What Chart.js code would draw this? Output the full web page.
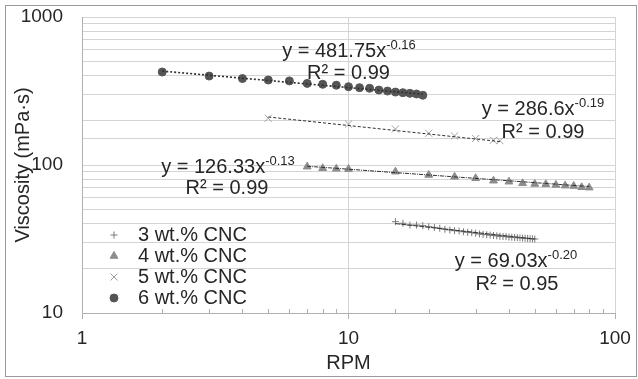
<!DOCTYPE html>
<html>
<head>
<meta charset="utf-8">
<script src="https://cdn.jsdelivr.net/npm/chart.js@4/dist/chart.umd.min.js"></script>
<style>
  html, body { margin: 0; padding: 0; background: #fff; }
  canvas { display: block; }
</style>
</head>
<body>
<canvas id="chart" width="638" height="379"></canvas>
<script>
// values
const seriesNames = ["3 wt.% CNC", "4 wt.% CNC", "5 wt.% CNC", "6 wt.% CNC"];

const rpm3 = [15,16,17,18,19,20,21,22,23,24,25,26,27,28,29,30,31,32,33,34,35,36,37,38,39,40,41,42,43,44,45,46,47,48,49,50];
const visc3 = [41.4,40.4,39.3,39.3,38.9,38.3,37.9,37.4,36.8,36.4,36.0,35.8,35.4,35.1,34.9,34.6,34.2,34.0,33.8,33.6,33.4,33.2,33.0,32.9,32.8,32.6,32.5,32.4,32.3,32.2,32.1,32.0,31.9,31.8,31.7,31.6];

const rpm4 = [7,8,9,10,15,20,25,30,35,40,45,50,55,60,65,70,75,80];
const visc4 = [97.4,95.1,94.3,93.8,90.1,85.6,83.2,81.3,78.3,77.1,75.2,74.4,74.1,73.3,72.5,72.1,70.7,70.3];

const rpm5 = [5,10,15,20,25,30,35,37];
const visc5 = [207,189,175,164,157,151,147,146];

const rpm6 = [2,3,4,5,6,7,8,9,10,11,12,13,14,15,16,17,18,19];
const visc6 = [425,399,384,375,370,356,351,346,338,333,330,321,316,311,308,305,302,296];

// power-law trendlines (straight on log-log), end points
const trendRpm = [[15, 50], [7, 80], [5, 37], [2, 19]];
const trendVisc = [[40.2, 31.6], [98.1, 71.5], [211, 144], [431, 301]];

const fitEquations = ["y = 69.03x", "y = 126.33x", "y = 286.6x", "y = 481.75x"];
const fitExponents = ["-0.20", "-0.13", "-0.19", "-0.16"];
const fitR2 = ["R\u00b2 = 0.95", "R\u00b2 = 0.99", "R\u00b2 = 0.99", "R\u00b2 = 0.99"];

const xLabelTicks = [1, 10, 100];
const yLabelTicks = [10, 100, 1000];

// styles / placement
const FONT = '"Liberation Sans", Arial, sans-serif';
const textColor = "#262626";
const gridColor = "#d4d4d4";
const axisColor = "#b0b0b0";
const markers = [
  { style: "cross", radius: 3.5, color: "#7a7a7a" },
  { style: "triangle", radius: 4.5, color: "#8c8c8c" },
  { style: "crossRot", radius: 5, color: "#a0a0a0" },
  { style: "circle", radius: 4, color: "#555555" }
];
const trendDash = [[5, 1], [4, 1, 1, 1], [3, 2], [2, 2]];
const trendWidth = [1, 1, 1, 1.6];
const eqPos = [[516, 267], [228, 173], [543, 114.5], [349, 57]];
const r2Pos = [[517, 290], [227, 194], [543, 137.5], [348.5, 78.5]];
const legendX = 114, legendTextX = 138, legendTop = 235, legendStep = 21;

const isDecade = v => Math.abs(Math.log10(v) - Math.round(Math.log10(v))) < 1e-9;

const pointSets = [[rpm3, visc3], [rpm4, visc4], [rpm5, visc5], [rpm6, visc6]];
const datasets = [];
pointSets.forEach(([xs, ys], i) => {
  datasets.push({
    label: seriesNames[i],
    data: xs.map((x, k) => ({ x: x, y: ys[k] })),
    showLine: false,
    pointStyle: markers[i].style,
    pointRadius: markers[i].radius,
    pointBorderWidth: 1,
    pointBackgroundColor: markers[i].color,
    pointBorderColor: markers[i].color,
    order: 1
  });
});
trendRpm.forEach((xs, i) => {
  datasets.push({
    label: "trend " + seriesNames[i],
    data: xs.map((x, k) => ({ x: x, y: trendVisc[i][k] })),
    showLine: true,
    pointRadius: 0,
    borderColor: "#303030",
    borderWidth: trendWidth[i],
    borderDash: trendDash[i],
    order: 0
  });
});

const extras = {
  id: "extras",
  beforeDatasetsDraw(chart) {
    const ctx = chart.ctx, xs = chart.scales.x, area = chart.chartArea;
    ctx.save();
    ctx.strokeStyle = axisColor;
    ctx.lineWidth = 1;
    xs.ticks.forEach(t => {
      if (isDecade(t.value)) return;
      const px = Math.round(xs.getPixelForValue(t.value)) + 0.5;
      ctx.beginPath();
      ctx.moveTo(px, area.bottom);
      ctx.lineTo(px, area.bottom - 4);
      ctx.stroke();
    });
    ctx.restore();
  },
  afterDraw(chart) {
    const ctx = chart.ctx;
    ctx.save();
    ctx.fillStyle = textColor;
    const big = "20px " + FONT, small = "13px " + FONT;
    fitEquations.forEach((eq, i) => {
      ctx.textAlign = "left";
      ctx.textBaseline = "alphabetic";
      ctx.font = big;
      const w1 = ctx.measureText(eq).width;
      ctx.font = small;
      const w2 = ctx.measureText(fitExponents[i]).width;
      const x0 = eqPos[i][0] - (w1 + w2) / 2;
      ctx.font = big;
      ctx.fillText(eq, x0, eqPos[i][1]);
      ctx.font = small;
      ctx.fillText(fitExponents[i], x0 + w1, eqPos[i][1] - 8);
      ctx.font = big;
      ctx.textAlign = "center";
      ctx.fillText(fitR2[i], r2Pos[i][0], r2Pos[i][1]);
    });

    // legend inside the plot
    seriesNames.forEach((name, i) => {
      const y = legendTop + i * legendStep;
      ctx.fillStyle = markers[i].color;
      ctx.strokeStyle = markers[i].color;
      ctx.lineWidth = 1;
      Chart.helpers.drawPoint(ctx, { pointStyle: markers[i].style, radius: markers[i].radius, borderWidth: 1, rotation: 0 }, legendX, y);
      ctx.fillStyle = textColor;
      ctx.font = big;
      ctx.textAlign = "left";
      ctx.textBaseline = "middle";
      ctx.fillText(name, legendTextX, y);
    });

    // chart frame
    ctx.strokeStyle = "#9a9a9a";
    ctx.lineWidth = 1;
    ctx.strokeRect(5.5, 5.5, 631, 371);
    ctx.restore();
  }
};

new Chart(document.getElementById("chart").getContext("2d"), {
  type: "scatter",
  data: { datasets: datasets },
  plugins: [extras],
  options: {
    responsive: false,
    animation: false,
    layout: { padding: { top: 17, right: 23, left: 0, bottom: 0 } },
    plugins: { legend: { display: false }, tooltip: { enabled: false } },
    scales: {
      x: {
        type: "logarithmic", min: 1, max: 100,
        afterFit: s => { s.height = 66; s.paddingLeft = 0; s.paddingRight = 0; },
        border: { display: true, color: axisColor },
        grid: {
          color: c => (c.tick && isDecade(c.tick.value)) ? (c.tick.value === 1 ? axisColor : gridColor) : "rgba(0,0,0,0)",
          tickLength: 6,
          tickColor: c => (c.tick && isDecade(c.tick.value)) ? axisColor : "rgba(0,0,0,0)"
        },
        ticks: {
          autoSkip: false, maxRotation: 0, padding: 8, color: textColor,
          font: { family: FONT, size: 19 },
          callback: v => xLabelTicks.includes(Math.round(v)) && isDecade(v) ? String(Math.round(v)) : ""
        },
        title: { display: true, text: "RPM", color: textColor, font: { family: FONT, size: 20 }, padding: { top: 0, bottom: 4 } }
      },
      y: {
        type: "logarithmic", min: 10, max: 1000,
        afterFit: s => { s.width = 82; s.paddingTop = 0; s.paddingBottom = 0; },
        border: { display: true, color: axisColor },
        grid: { color: gridColor, drawTicks: false },
        ticks: {
          autoSkip: false, padding: 19, color: textColor,
          font: { family: FONT, size: 19 },
          callback: v => yLabelTicks.includes(Math.round(v)) && isDecade(v) ? String(Math.round(v)) : ""
        },
        title: { display: true, text: "Viscosity (mPa\u00b7s)", color: textColor, font: { family: FONT, size: 20 }, padding: { top: 11, bottom: 0 } }
      }
    }
  }
});
</script>
</body>
</html>
